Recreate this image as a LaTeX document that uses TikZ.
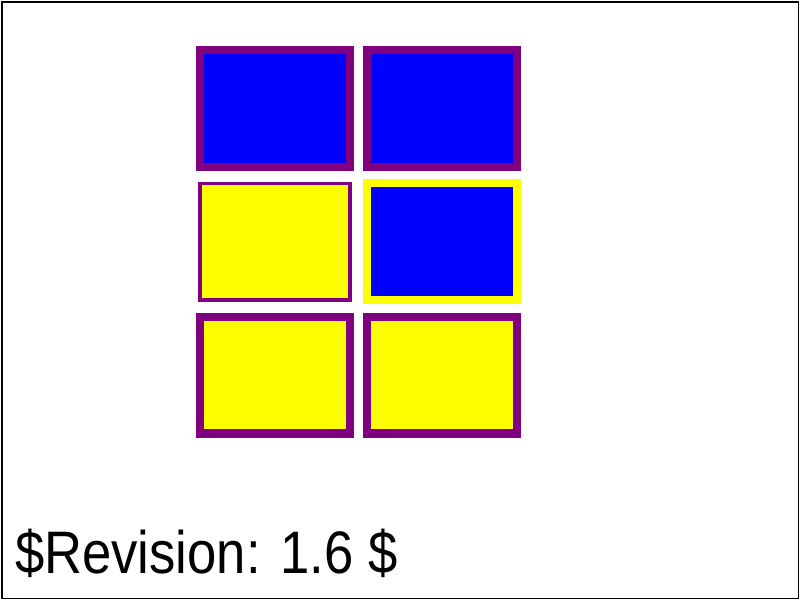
\documentclass[tikz,border=0pt]{standalone}
\usepackage{fontspec}
\setmainfont{Liberation Sans}
\usepackage{tikz}
\tikzstyle{canvas} = [x = 1pt, y = -1pt]
\definecolor{frameColor}{RGB}{128,0,128}
\definecolor{boxBlue}{RGB}{0,0,255}
\definecolor{boxYellow}{RGB}{255,255,0}
\tikzstyle{thickFrame} = [line width = 8.33pt]
\tikzstyle{thinFrame} = [line width = 3.33pt]
\tikzstyle{revisionText} = [font=\fontsize{60}{60}\selectfont, anchor = base west, inner sep = 0pt, xscale = .877]
\newcommand{\cellW}{150}
\newcommand{\cellH}{116.67}
\newcommand{\paintedBox}[4]{\filldraw [#4, fill=#3] (200 + 166.67 * #1, 50 + 133.33 * #2) rectangle + (\cellW, \cellH);}

\begin{document}
\begin{tikzpicture}[canvas]
  \useasboundingbox (0,0) rectangle (800,600);
  \draw [line width = 1.67pt] (1.67,1.67) rectangle (798.33,598.33);

  \paintedBox{0}{0}{boxBlue}{thickFrame, draw=frameColor}
  \paintedBox{1}{0}{boxBlue}{thickFrame, draw=frameColor}
  \paintedBox{0}{1}{boxYellow}{thinFrame, draw=frameColor}
  \paintedBox{1}{1}{boxBlue}{thickFrame, draw=boxYellow}
  \paintedBox{0}{2}{boxYellow}{thickFrame, draw=frameColor}
  \paintedBox{1}{2}{boxYellow}{thickFrame, draw=frameColor}

  \node [revisionText] (revision) at (15,573) {\$Revision: 1.6 \$};
\end{tikzpicture}
\end{document}
